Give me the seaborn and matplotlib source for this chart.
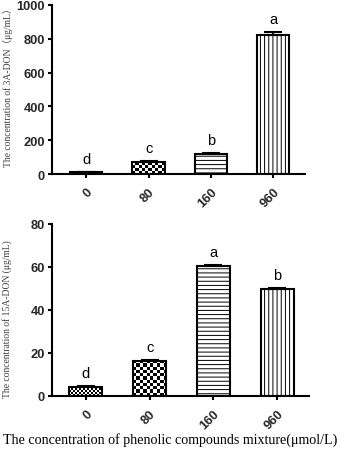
import numpy as np
import pandas as pd
import matplotlib
matplotlib.use("Agg")
import matplotlib.pyplot as plt
import seaborn as sns

# concentrations of phenolic compounds mixture (umol/L)
doses = ["0", "80", "160", "960"]

# 3A-DON (ug/mL)
don3a_mean = [10, 71, 118, 824]
don3a_err = [2, 5, 5, 16]
don3a_letters = ["d", "c", "b", "a"]

# 15A-DON (ug/mL)
don15a_mean = [4.2, 16.4, 60.5, 49.6]
don15a_err = [0.3, 0.3, 0.4, 0.7]
don15a_letters = ["d", "c", "a", "b"]

sns.set_theme(style="ticks")
plt.rcParams["font.family"] = ["Liberation Sans"]
plt.rcParams["hatch.linewidth"] = 0.7
plt.rcParams["hatch.color"] = "black"

SERIF = ["Liberation Serif", "Noto Sans CJK SC"]

fig = plt.figure(figsize=(3.4, 4.52), dpi=100)
ax_top = fig.add_axes([52 / 340, 1 - 175 / 452, 253 / 340, 169 / 452])
ax_bot = fig.add_axes([52 / 340, 1 - 397 / 452, 257 / 340, 172 / 452])


def add_checker(ax, patch, cell_px):
    # checkerboard fill clipped to the bar
    x0, y0 = patch.get_x(), patch.get_y()
    w, h = patch.get_width(), patch.get_height()
    p0 = ax.transData.transform((x0, y0))
    p1 = ax.transData.transform((x0 + w, y0 + h))
    nx = max(1, int(round(abs(p1[0] - p0[0]) / cell_px)))
    ny = max(1, int(round(abs(p1[1] - p0[1]) / cell_px)))
    ii, jj = np.indices((ny, nx))
    board = ((ii + jj) % 2).astype(float)
    im = ax.imshow(board, cmap="gray", extent=(x0, x0 + w, y0, y0 + h),
                   aspect="auto", interpolation="nearest", zorder=0.8, origin="lower")
    im.set_clip_path(patch)
    patch.set_facecolor("none")


def draw_panel(ax, means, errs, letters, ylim, yticks, xlim, ylabel, label_y, check_cells):
    df = pd.DataFrame({"dose": doses, "value": means})
    sns.barplot(data=df, x="dose", y="value", order=doses, color="white",
                edgecolor="black", linewidth=1.5, width=0.52, errorbar=None,
                saturation=1, ax=ax)
    ax.set_xlim(*xlim)
    ax.set_ylim(*ylim)
    ax.set_yticks(yticks)

    bars = ax.patches[:len(doses)]
    for bar in bars:
        bar.set_facecolor("white")
        bar.set_edgecolor("black")
    bars[2].set_hatch("----")
    bars[3].set_hatch("||||")
    fig.canvas.draw()
    for bar, cell in zip(bars[:2], check_cells):
        add_checker(ax, bar, cell)

    centers = [b.get_x() + b.get_width() / 2 for b in bars]
    ax.errorbar(centers, means, yerr=[[0] * len(errs), errs], fmt="none",
                ecolor="black", elinewidth=1.5, capsize=6.5, capthick=1.5, zorder=3)
    for xc, m, e, lt in zip(centers, means, errs, letters):
        ax.annotate(lt, (xc, m + e), xytext=(0, 9.5), textcoords="offset points",
                    ha="center", va="center", fontsize=10.5, color="black")

    sns.despine(ax=ax)
    for side in ["left", "bottom"]:
        ax.spines[side].set_linewidth(1.5)
        ax.spines[side].set_color("black")
    ax.tick_params(axis="both", direction="out", length=3, width=1.5, color="black",
                   labelsize=9.3, pad=2)
    for t in ax.get_yticklabels():
        t.set_fontweight("bold")
    ax.set_xticks(range(len(doses)))
    ax.set_xticklabels(doses, rotation=45, ha="right", va="top",
                       rotation_mode="anchor", fontweight="bold", fontsize=9.3)
    ax.tick_params(axis="x", pad=5)
    ax.set_xlabel("")
    ax.set_ylabel(ylabel, family=SERIF, fontsize=6.9, color="#404040")
    ax.yaxis.set_label_coords(-0.154, label_y)
    ax.set_facecolor("white")


draw_panel(ax_top, don3a_mean, don3a_err, don3a_letters, (0, 1000),
           range(0, 1001, 200), (-0.55, 3.51),
           "The concentration of 3A-DON（μg/mL）", 0.53, (2.5, 3.3))
draw_panel(ax_bot, don15a_mean, don15a_err, don15a_letters, (0, 80),
           range(0, 81, 20), (-0.53, 3.5),
           "The concentration of 15A-DON (μg/mL)", 0.45, (2.0, 3.3))

fig.text(0.5, 1 - 440 / 452, "The concentration of phenolic compounds mixture(μmol/L)",
         ha="center", va="center", family=SERIF, fontsize=10.1, color="black")

fig.savefig("out.png", dpi=100, facecolor="white")
